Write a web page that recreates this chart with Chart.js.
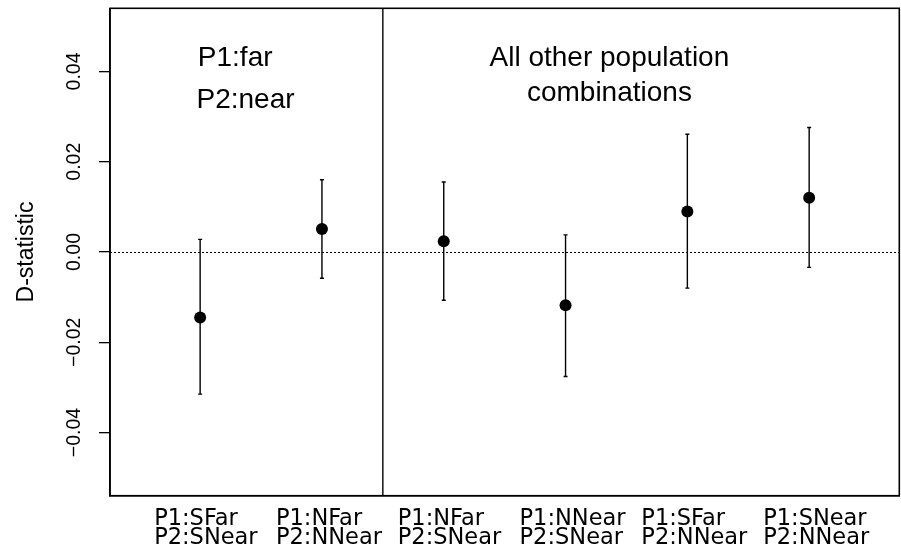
<!DOCTYPE html>
<html>
<head>
<meta charset="utf-8">
<script src="https://cdn.jsdelivr.net/npm/chart.js@4.4.1/dist/chart.umd.min.js"></script>
<style>
  html, body { margin: 0; padding: 0; background: #ffffff; }
  #wrap { width: 901px; height: 548px; }
</style>
</head>
<body>
<div id="wrap"><canvas id="c" width="901" height="548"></canvas></div>
<script>
// ---- data ----
const categories = [
  ['P1:SFar', 'P2:SNear'],
  ['P1:NFar', 'P2:NNear'],
  ['P1:NFar', 'P2:SNear'],
  ['P1:NNear', 'P2:SNear'],
  ['P1:SFar', 'P2:NNear'],
  ['P1:SNear', 'P2:NNear']
];
const xPositions = [1, 2, 3, 4, 5, 6];
const dStatistic = [-0.0145, 0.0051, 0.0024, -0.0118, 0.0090, 0.0120];
const ciLower    = [-0.0315, -0.0058, -0.0107, -0.0276, -0.0080, -0.0034];
const ciUpper    = [0.0028, 0.0160, 0.0155, 0.0038, 0.0261, 0.0276];
const yTickValues = [-0.04, -0.02, 0.00, 0.02, 0.04];
const yTickLabels = ['\u22120.04', '\u22120.02', '0.00', '0.02', '0.04'];
const dividerAt = 2.5;
const panelTitleLeft = ['P1:far', 'P2:near'];
const panelTitleRight = ['All other population', 'combinations'];

// ---- styling / layout (not data) ----
const AXIS_FONT = '"Liberation Sans", Arial, Helvetica, sans-serif';
const TICK_FONT = '"DejaVu Sans", Verdana, sans-serif';

const overlay = {
  id: 'overlay',
  beforeDatasetsDraw(chart) {
    const {ctx, chartArea: a, scales: {x, y}} = chart;
    ctx.save();
    // dotted zero line
    ctx.strokeStyle = '#000';
    ctx.lineWidth = 1;
    ctx.setLineDash([2, 2]);
    const y0 = Math.round(y.getPixelForValue(0)) + 0.5;
    ctx.beginPath();
    ctx.moveTo(a.left, y0);
    ctx.lineTo(a.right, y0);
    ctx.stroke();
    ctx.setLineDash([]);
    // divider
    const xd = x.getPixelForValue(dividerAt);
    ctx.lineWidth = 1.4;
    ctx.beginPath();
    ctx.moveTo(xd, a.top);
    ctx.lineTo(xd, a.bottom);
    ctx.stroke();
    // error bars
    ctx.lineWidth = 1.4;
    for (let i = 0; i < xPositions.length; i++) {
      const px = x.getPixelForValue(xPositions[i]);
      const lo = y.getPixelForValue(ciLower[i]);
      const hi = y.getPixelForValue(ciUpper[i]);
      ctx.beginPath();
      ctx.moveTo(px, lo); ctx.lineTo(px, hi);
      ctx.moveTo(px - 2, lo); ctx.lineTo(px + 2, lo);
      ctx.moveTo(px - 2, hi); ctx.lineTo(px + 2, hi);
      ctx.stroke();
    }
    ctx.restore();
  },
  afterDraw(chart) {
    const {ctx, chartArea: a, scales: {x, y}} = chart;
    ctx.save();
    // box
    ctx.strokeStyle = '#000';
    ctx.lineWidth = 1.6;
    ctx.strokeRect(a.left, a.top, a.right - a.left, a.bottom - a.top);
    // rotated y tick labels
    ctx.fillStyle = '#000';
    ctx.font = '19.5px ' + AXIS_FONT;
    ctx.textAlign = 'center';
    ctx.textBaseline = 'middle';
    yTickValues.forEach((v, i) => {
      const py = y.getPixelForValue(v);
      ctx.save();
      ctx.translate(75, py);
      ctx.rotate(-Math.PI / 2);
      ctx.fillText(yTickLabels[i], 0, 0);
      ctx.restore();
    });
    // panel titles
    ctx.font = '28px ' + AXIS_FONT;
    ctx.textBaseline = 'alphabetic';
    ctx.textAlign = 'left';
    ctx.fillText(panelTitleLeft[0], x.getPixelForValue(0.981), y.getPixelForValue(0.04115));
    ctx.fillText(panelTitleLeft[1], x.getPixelForValue(0.970), y.getPixelForValue(0.03193));
    ctx.textAlign = 'center';
    ctx.fillText(panelTitleRight[0], x.getPixelForValue(4.36), y.getPixelForValue(0.04115));
    ctx.fillText(panelTitleRight[1], x.getPixelForValue(4.36), y.getPixelForValue(0.03339));
    ctx.restore();
  }
};

new Chart(document.getElementById('c'), {
  type: 'scatter',
  data: {
    datasets: [{
      data: xPositions.map((xv, i) => ({x: xv, y: dStatistic[i]})),
      pointRadius: 6,
      pointHoverRadius: 6,
      pointBackgroundColor: '#000',
      pointBorderWidth: 0,
      showLine: false
    }]
  },
  options: {
    responsive: false,
    animation: false,
    events: [],
    layout: { autoPadding: false, padding: { top: 8.3, right: 1.7, left: 0, bottom: 0 } },
    plugins: { legend: { display: false }, tooltip: { enabled: false } },
    scales: {
      x: {
        type: 'linear',
        min: 0.26,
        max: 6.74,
        afterBuildTicks: s => { s.ticks = xPositions.map(v => ({value: v})); },
        afterFit: s => { s.height = 52.3; s.paddingLeft = 0; s.paddingRight = 0; },
        grid: { display: false },
        border: { display: true, color: '#000', width: 1.6 },
        ticks: {
          autoSkip: false,
          maxRotation: 0,
          minRotation: 0,
          align: 'start',
          labelOffset: -46,
          padding: 6,
          color: '#000',
          font: { family: TICK_FONT, size: 22.5, lineHeight: '19px' },
          callback: (v, i) => categories[i]
        }
      },
      y: {
        type: 'linear',
        min: -0.054,
        max: 0.054,
        afterBuildTicks: s => { s.ticks = yTickValues.map(v => ({value: v})); },
        afterFit: s => { s.width = 110; },
        grid: {
          display: true,
          drawOnChartArea: false,
          drawTicks: true,
          tickLength: 11,
          color: '#000',
          lineWidth: 1.3
        },
        border: { display: true, color: '#000', width: 1.6 },
        ticks: { display: false },
        title: {
          display: true,
          text: 'D-statistic',
          color: '#000',
          font: { family: AXIS_FONT, size: 23, lineHeight: 1.2 },
          padding: { top: 13, bottom: 0 }
        }
      }
    }
  },
  plugins: [overlay]
});
</script>
</body>
</html>
